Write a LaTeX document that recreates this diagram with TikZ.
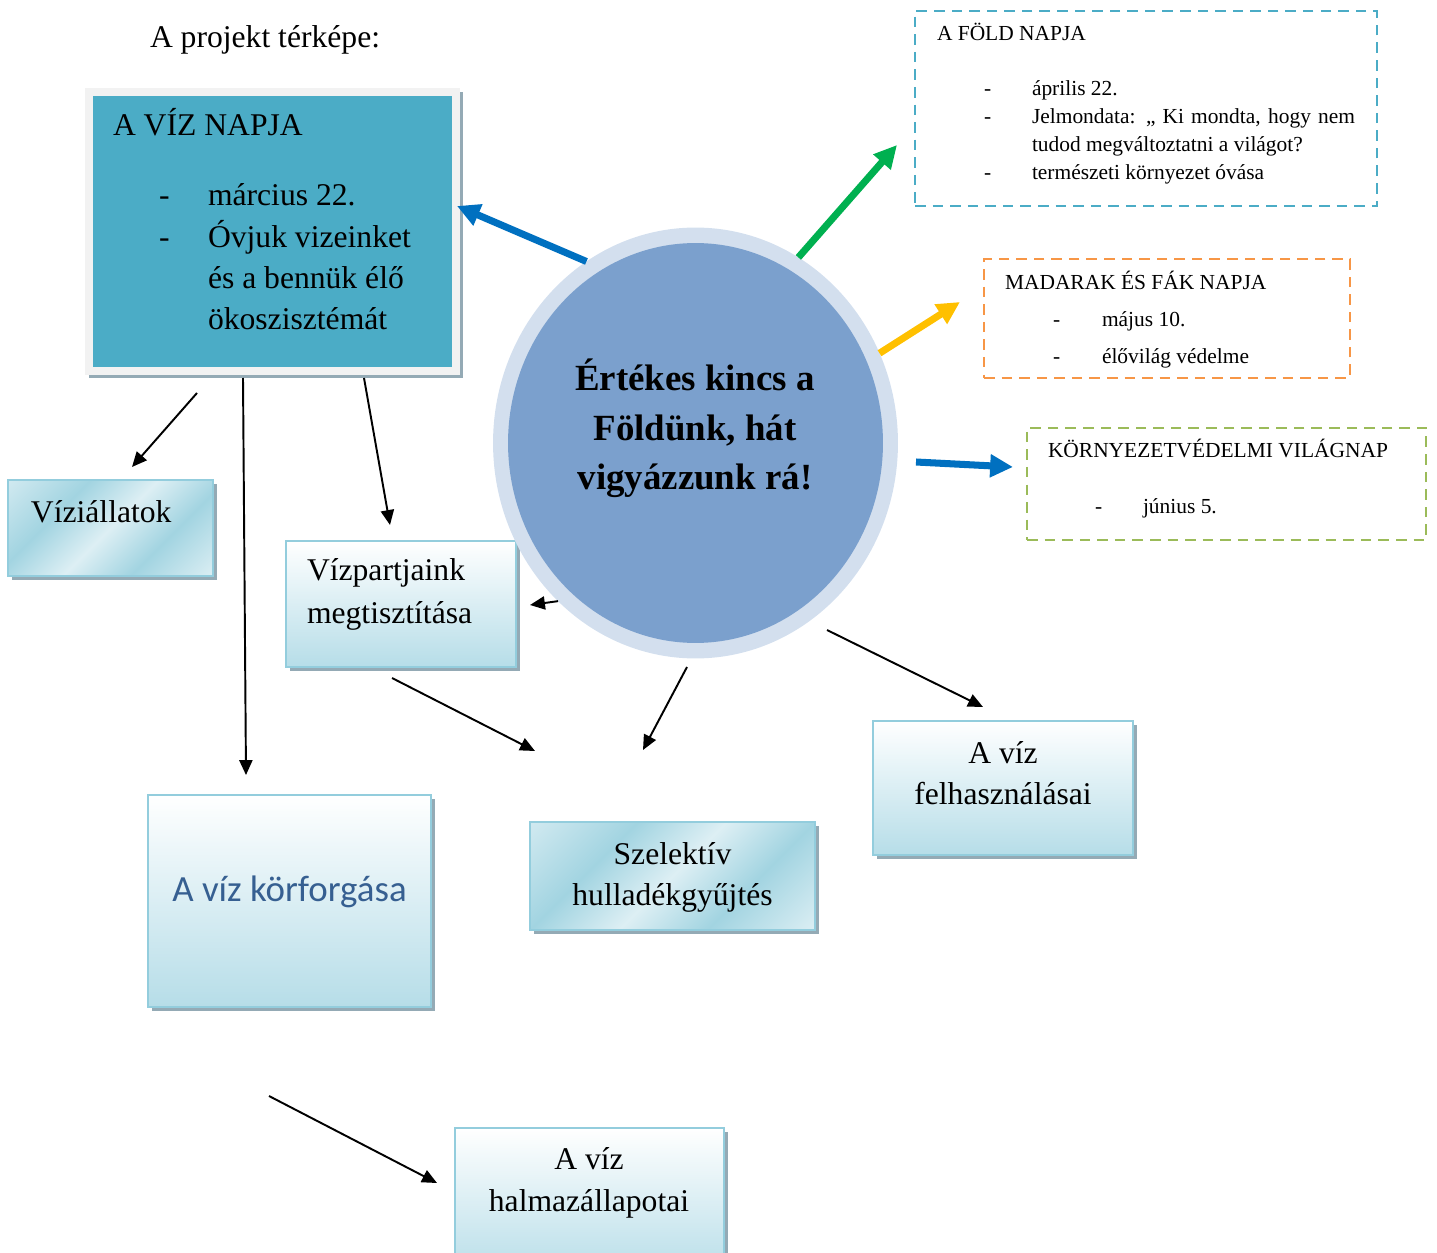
\documentclass[tikz,border=0pt]{standalone}
\usepackage{fontspec}
\setmainfont{Liberation Serif}
\newfontfamily\carlito{Carlito}
\usepackage{xcolor}
\usetikzlibrary{arrows.meta,shapes.geometric,shadows,calc}

\definecolor{vizkek}{HTML}{4BACC6}
\definecolor{keretszurke}{HTML}{F2F2F2}
\definecolor{arnyek}{HTML}{94AAB5}
\definecolor{dobozkeret}{HTML}{93CDDD}
\definecolor{dobozalja}{HTML}{B6DDE8}
\definecolor{dobozkozep}{HTML}{D6ECF2}
\definecolor{vilagos}{HTML}{D0E9F0}
\definecolor{vilagosabb}{HTML}{DDEFF4}
\definecolor{sotet}{HTML}{A2D4E1}
\definecolor{korkulso}{HTML}{D3DFEE}
\definecolor{korbelso}{HTML}{7BA0CD}
\definecolor{narancs}{HTML}{F79646}
\definecolor{olivzold}{HTML}{9BBB59}
\definecolor{nyilkek}{HTML}{0070C0}
\definecolor{nyilzold}{HTML}{00B050}
\definecolor{nyilsarga}{HTML}{FFC000}
\definecolor{cimkek}{HTML}{365F91}

\pgfdeclarehorizontalshading{atlos}{100bp}{color(0bp)=(vilagos); color(15bp)=(vilagos);
  color(34bp)=(sotet); color(50bp)=(vilagosabb); color(66bp)=(sotet);
  color(86bp)=(vilagosabb); color(100bp)=(vilagosabb)}

\newcommand\nagybetu{\fontsize{18pt}{24pt}\selectfont}
\newcommand\kisbetu{\fontsize{12.2pt}{16pt}\selectfont}
\newcommand\korbetu{\fontsize{21pt}{28pt}\selectfont\bfseries}

\tikzset{
  doboz/.style={draw=dobozkeret, line width=1.3pt, inner sep=0, outer sep=0,
    top color=white, middle color=dobozkozep, bottom color=dobozalja,
    drop shadow={shadow xshift=2.2pt, shadow yshift=-2.2pt, fill=arnyek, opacity=1}},
  atlosdoboz/.style={doboz, shading=atlos, shading angle=-45},
  szaggatott/.style={draw=#1, line width=1.4pt, dash pattern=on 6pt off 4pt,
    inner sep=0, outer sep=0},
  sor/.style={anchor=base west, inner sep=0, outer sep=0},
  sorkozep/.style={anchor=base, inner sep=0, outer sep=0},
  nyil/.style={line width=1.1pt, -{Triangle[length=8.5pt,width=7.5pt]}},
  vastagnyil/.style={draw=#1, line width=4pt, -{Triangle[length=13pt,width=12.5pt]}}
}

\begin{document}
\begin{tikzpicture}[x=0.02cm,y=-0.02cm]
    \useasboundingbox (0,0) rectangle (1437,1253);

    %CIM
    \node[sor] (cim) at (150,48) {\nagybetu A projekt térképe:};

    %A VIZ NAPJA
    \node[fill=keretszurke, inner sep=0, outer sep=0, minimum width=7.5cm, minimum height=5.74cm,
        drop shadow={shadow xshift=2pt, shadow yshift=-2pt, fill=arnyek, opacity=1}]
        (vizNapja) at (272.5,231.5) {};
    \node[fill=vizkek, inner sep=0, minimum width=7.18cm, minimum height=5.42cm]
        (vizNapjaBelso) at (vizNapja.center) {};
    \node[sor] (vnCim) at (113,136) {\nagybetu A VÍZ NAPJA};
    \node[sor] (vnJel1) at (159,206) {\nagybetu -};
    \node[sor] (vnSor1) at (208,206) {\nagybetu március 22.};
    \node[sor] (vnJel2) at (159,248) {\nagybetu -};
    \node[sor] (vnSor2) at (208,248) {\nagybetu Óvjuk vizeinket};
    \node[sor] (vnSor3) at (208,289) {\nagybetu és a bennük élő};
    \node[sor] (vnSor4) at (208,330) {\nagybetu ökoszisztémát};

    %SZAGGATOTT DOBOZOK
    \node[szaggatott=vizkek, minimum width=9.24cm, minimum height=3.9cm] (foldNapja) at (1146,108.5) {};
    \node[sor] (fnCim) at (937,41) {\kisbetu A FÖLD NAPJA};
    \node[sor] (fnJel1) at (984,96) {\kisbetu -};
    \node[sor] (fnSor1) at (1032,96) {\kisbetu április 22.};
    \node[sor] (fnJel2) at (984,124) {\kisbetu -};
    \node[sor] (fnSor2) at (1032,124) {\kisbetu\makebox[6.46cm][s]{Jelmondata: „ Ki mondta, hogy nem}};
    \node[sor] (fnSor3) at (1032,152) {\kisbetu tudod megváltoztatni a világot?};
    \node[sor] (fnJel3) at (984,180) {\kisbetu -};
    \node[sor] (fnSor4) at (1032,180) {\kisbetu természeti környezet óvása};

    \node[szaggatott=narancs, minimum width=7.32cm, minimum height=2.38cm] (madarak) at (1167,318.5) {};
    \node[sor] (mfCim) at (1005,290) {\kisbetu MADARAK ÉS FÁK NAPJA};
    \node[sor] (mfJel1) at (1053,327) {\kisbetu -};
    \node[sor] (mfSor1) at (1102,327) {\kisbetu május 10.};
    \node[sor] (mfJel2) at (1053,364) {\kisbetu -};
    \node[sor] (mfSor2) at (1102,364) {\kisbetu élővilág védelme};

    \node[szaggatott=olivzold, minimum width=7.98cm, minimum height=2.24cm] (vilagnap) at (1226.5,484) {};
    \node[sor] (kvCim) at (1048,458) {\kisbetu KÖRNYEZETVÉDELMI VILÁGNAP};
    \node[sor] (kvJel1) at (1095,513) {\kisbetu -};
    \node[sor] (kvSor1) at (1143,513) {\kisbetu június 5.};

    %KEK DOBOZOK
    \node[atlosdoboz, minimum width=4.1cm, minimum height=1.92cm] (allatok) at (110.5,528) {};
    \node[sor] (allatokSz) at (31,522) {\nagybetu Víziállatok};

    \node[doboz, minimum width=4.6cm, minimum height=2.52cm] (vizpart) at (401,604) {};
    \node[sor] (vizpartSz1) at (307,580) {\nagybetu Vízpartjaink};
    \node[sor] (vizpartSz2) at (307,623) {\nagybetu megtisztítása};

    \node[doboz, minimum width=5.66cm, minimum height=4.24cm] (korforgas) at (289.5,901) {};
    \node[sorkozep, text=cimkek] (korforgasSz) at (289.5,901) {\carlito\fontsize{21pt}{26pt}\selectfont A víz körforgása};

    \node[atlosdoboz, minimum width=5.7cm, minimum height=2.16cm] (szelektiv) at (672.5,876) {};
    \node[sorkozep] (szelektivSz1) at (672.5,864) {\nagybetu Szelektív};
    \node[sorkozep] (szelektivSz2) at (672.5,905) {\nagybetu hulladékgyűjtés};

    \node[doboz, minimum width=5.2cm, minimum height=2.68cm] (felhasznalas) at (1003,788) {};
    \node[sorkozep] (felhasznalasSz1) at (1003,763) {\nagybetu A víz};
    \node[sorkozep] (felhasznalasSz2) at (1003,804) {\nagybetu felhasználásai};

    \node[doboz, minimum width=5.38cm, minimum height=3cm] (halmaz) at (589.5,1203) {};
    \node[sorkozep] (halmazSz1) at (589,1169) {\nagybetu A víz};
    \node[sorkozep] (halmazSz2) at (589,1211) {\nagybetu halmazállapotai};

    %KOR
    \node[ellipse, fill=korkulso, inner sep=0, outer sep=0, minimum width=8.1cm, minimum height=8.62cm]
        (kor) at (695.5,443) {};
    \node[ellipse, fill=korbelso, inner sep=0, minimum width=7.5cm, minimum height=8cm]
        (korBelso) at (kor.center) {};
    \node[sorkozep] (korSz1) at (695,391) {\korbetu Értékes kincs a};
    \node[sorkozep] (korSz2) at (695,440) {\korbetu Földünk, hát};
    \node[sorkozep] (korSz3) at (695,489) {\korbetu vigyázzunk rá!};

    %SZINES NYILAK
    \coordinate (kekCel) at (457,206);
    \coordinate (zoldCel) at (897,145);
    \coordinate (sargaCel) at (960,302);
    \coordinate (vilagnapTol) at (916,462);
    \coordinate (vilagnapCel) at (1013,467);
    \draw[vastagnyil=nyilkek] (kor.121) -- (kekCel);
    \draw[vastagnyil=nyilzold] (kor.61) -- (zoldCel);
    \draw[vastagnyil=nyilsarga] (kor.26) -- (sargaCel);
    \draw[vastagnyil=nyilkek] (vilagnapTol) -- (vilagnapCel);

    %FEKETE NYILAK
    \coordinate (allatTol) at (197,393);
    \coordinate (allatCel) at (132,467);
    \coordinate (korfTol) at (243,378);
    \coordinate (korfCel) at (246,775);
    \coordinate (partTol) at (364,378);
    \coordinate (partCel) at (390,525);
    \coordinate (partCel2) at (530,605);
    \coordinate (szelTol) at (392,678);
    \coordinate (szelCel) at (535,751);
    \coordinate (szelTol2) at (687,667);
    \coordinate (szelCel2) at (643,750);
    \coordinate (felhTol) at (827,630);
    \coordinate (felhCel) at (983,707);
    \coordinate (halmTol) at (269,1096);
    \coordinate (halmCel) at (437,1183);
    \draw[nyil] (allatTol) -- (allatCel);
    \draw[nyil] (korfTol) -- (korfCel);
    \draw[nyil] (partTol) -- (partCel);
    \draw[nyil] (kor.229) -- (partCel2);
    \draw[nyil] (szelTol) -- (szelCel);
    \draw[nyil] (szelTol2) -- (szelCel2);
    \draw[nyil] (felhTol) -- (felhCel);
    \draw[nyil] (halmTol) -- (halmCel);
\end{tikzpicture}
\end{document}
